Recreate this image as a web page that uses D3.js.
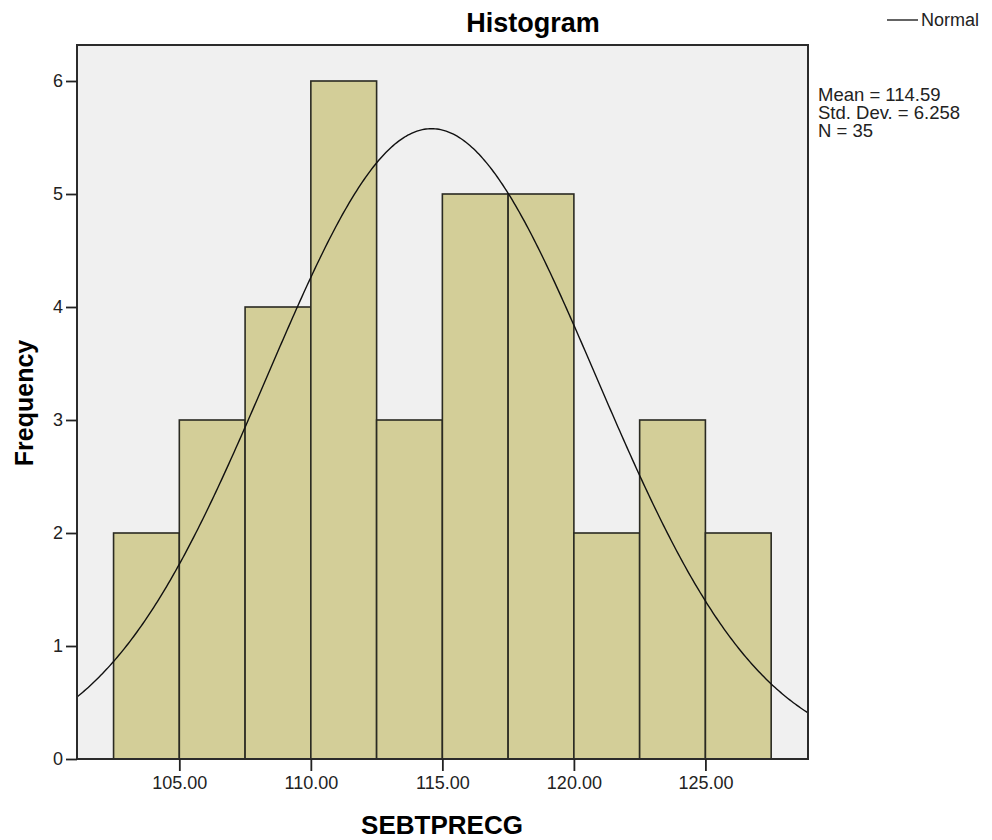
<!DOCTYPE html>
<html>
<head>
<meta charset="utf-8">
<script src="https://cdn.jsdelivr.net/npm/d3@7"></script>
<style>
  html, body { margin: 0; padding: 0; background: #fff; }
  svg { display: block; font-family: "Liberation Sans", Arial, sans-serif; }
</style>
</head>
<body>
<svg id="chart" width="992" height="840"></svg>
<script>
// Histogram of SEBTPRECG with fitted normal curve
const binStarts = [102.5, 105, 107.5, 110, 112.5, 115, 117.5, 120, 122.5, 125];
const binWidth = 2.5;
const counts = [2, 3, 4, 6, 3, 5, 5, 2, 3, 2];
const yTicks = [0, 1, 2, 3, 4, 5, 6];
const xTicks = [105, 110, 115, 120, 125];
const mean = 114.59;
const stdDev = 6.258;
const n = 35;
const statLines = ["Mean = 114.59", "Std. Dev. = 6.258", "N = 35"];

const svg = d3.select("#chart");
const plot = { left: 77, top: 45, right: 808, bottom: 759 };

const x = d3.scaleLinear().domain([101.11, 128.9]).range([plot.left, plot.right]);
const y = d3.scaleLinear().domain([0, 6]).range([plot.bottom, 81]);

// plot background
svg.append("rect")
  .attr("x", plot.left).attr("y", plot.top)
  .attr("width", plot.right - plot.left).attr("height", plot.bottom - plot.top)
  .attr("fill", "#f0f0f0");

svg.append("defs").append("clipPath").attr("id", "plotClip")
  .append("rect")
  .attr("x", plot.left).attr("y", plot.top)
  .attr("width", plot.right - plot.left).attr("height", plot.bottom - plot.top);

// bars
const bins = binStarts.map((s, i) => ({ x0: s, x1: s + binWidth, count: counts[i] }));
svg.append("g").selectAll("rect").data(bins).join("rect")
  .attr("x", d => x(d.x0))
  .attr("y", d => y(d.count))
  .attr("width", d => x(d.x1) - x(d.x0))
  .attr("height", d => y(0) - y(d.count))
  .attr("fill", "#d3ce98")
  .attr("stroke", "#2a2a22")
  .attr("stroke-width", 1.6);

// normal curve scaled to frequency
const pdf = v => Math.exp(-0.5 * ((v - mean) / stdDev) ** 2) / (stdDev * Math.sqrt(2 * Math.PI));
const curvePts = d3.range(0, 401).map(i => {
  const v = x.domain()[0] + (x.domain()[1] - x.domain()[0]) * i / 400;
  return [v, n * binWidth * pdf(v)];
});
svg.append("path")
  .datum(curvePts)
  .attr("clip-path", "url(#plotClip)")
  .attr("fill", "none")
  .attr("stroke", "#111")
  .attr("stroke-width", 1.4)
  .attr("d", d3.line().x(d => x(d[0])).y(d => y(d[1])));

// frame
svg.append("rect")
  .attr("x", plot.left).attr("y", plot.top)
  .attr("width", plot.right - plot.left).attr("height", plot.bottom - plot.top)
  .attr("fill", "none")
  .attr("stroke", "#2b2b2b")
  .attr("stroke-width", 2);

// axes
const yAxis = d3.axisLeft(y).tickValues(yTicks).tickSize(11).tickPadding(3).tickFormat(d3.format("d"));
const gy = svg.append("g").attr("transform", `translate(${plot.left},0)`).call(yAxis);
gy.select(".domain").remove();
gy.selectAll(".tick line").attr("stroke", "#222").attr("stroke-width", 1.8);
gy.selectAll(".tick text").attr("font-size", 18).attr("fill", "#222")
  .attr("font-family", "Liberation Sans, Arial, sans-serif");

const xAxis = d3.axisBottom(x).tickValues(xTicks).tickSize(12).tickPadding(5).tickFormat(d3.format(".2f"));
const gx = svg.append("g").attr("transform", `translate(0,${plot.bottom})`).call(xAxis);
gx.select(".domain").remove();
gx.selectAll(".tick line").attr("stroke", "#222").attr("stroke-width", 1.8);
gx.selectAll(".tick text").attr("font-size", 18).attr("fill", "#222")
  .attr("font-family", "Liberation Sans, Arial, sans-serif");

// titles
svg.append("text")
  .attr("x", 533).attr("y", 32)
  .attr("text-anchor", "middle")
  .attr("font-size", 27).attr("font-weight", "bold").attr("fill", "#000")
  .text("Histogram");

svg.append("text")
  .attr("x", 442).attr("y", 834)
  .attr("text-anchor", "middle")
  .attr("font-size", 26).attr("font-weight", "bold").attr("fill", "#000")
  .text("SEBTPRECG");

svg.append("text")
  .attr("transform", "translate(33,403) rotate(-90)")
  .attr("text-anchor", "middle")
  .attr("font-size", 25).attr("font-weight", "bold").attr("fill", "#000")
  .text("Frequency");

// legend
svg.append("line")
  .attr("x1", 887).attr("x2", 918).attr("y1", 20).attr("y2", 20)
  .attr("stroke", "#222").attr("stroke-width", 1.4);
svg.append("text")
  .attr("x", 921).attr("y", 26)
  .attr("font-size", 18).attr("fill", "#222")
  .text("Normal");

// summary statistics
svg.append("g").selectAll("text").data(statLines).join("text")
  .attr("x", 818)
  .attr("y", (d, i) => 101 + i * 18)
  .attr("font-size", 18.5).attr("fill", "#222")
  .text(d => d);
</script>
</body>
</html>
